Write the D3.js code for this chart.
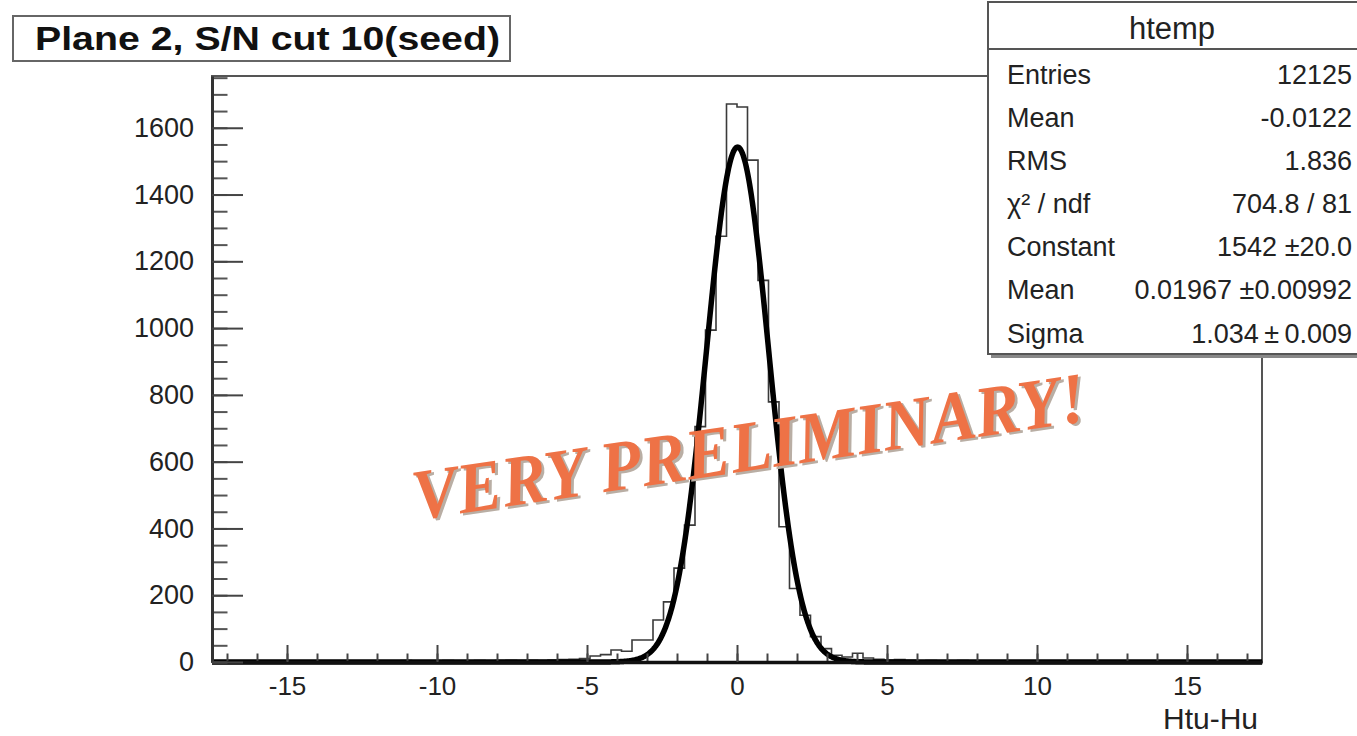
<!DOCTYPE html>
<html>
<head>
<meta charset="utf-8">
<script src="https://cdn.jsdelivr.net/npm/d3@7"></script>
<style>
  body { margin: 0; background: #fff; }
  svg { display: block; font-family: "Liberation Sans", Arial, sans-serif; }
</style>
</head>
<body>
<svg id="chart" width="1357" height="736"></svg>
<script>
// histogram htemp: 100 bins over [-17.5, 17.5]
const xRange = [-17.5, 17.5];
const yMax = 1755;
const counts = [
  1, 0, 2, 1, 1, 2, 1, 3, 2, 2,
  2, 3, 2, 1, 3, 2, 3, 2, 4, 3,
  3, 2, 4, 3, 3, 4, 3, 4, 5, 4,
  5, 4, 6, 7, 8, 10, 18, 22, 36, 32,
  66, 66, 126, 180, 281, 410, 705, 994, 1275, 1671,
  1662, 1503, 1143, 779, 405, 220, 140, 76, 40, 20,
  15, 26, 12, 8, 6, 7, 5, 3, 4, 2,
  3, 4, 3, 2, 3, 2, 3, 3, 2, 2,
  3, 2, 2, 1, 2, 3, 2, 1, 2, 1,
  1, 2, 1, 1, 0, 1, 1, 0, 1, 1
];

const xMajorTicks = [-15, -10, -5, 0, 5, 10, 15];
const xMinorTicks = d3.range(-17, 18, 1);
const yMajorTicks = [0, 200, 400, 600, 800, 1000, 1200, 1400, 1600];
const yMinorTicks = d3.range(0, 1751, 50);

// gaussian fit, parameters as printed in the stats box
const fitConstant = 1542;
const fitMean = 0.01967;
const fitSigma = 1.034;

const titleText = "Plane 2, S/N cut 10(seed)";
const statsTitle = "htemp";
const statLabels = ["Entries", "Mean", "RMS", "\u03C7\u00B2 / ndf", "Constant", "Mean", "Sigma"];
const statValues = ["12125", "-0.0122", "1.836", "704.8 / 81", "1542 \u00B120.0", "0.01967 \u00B10.00992", "1.034\u2009\u00B1\u20090.009"];
const xTitle = "Htu-Hu";
const stamp = "VERY PRELIMINARY!";

const svg = d3.select("#chart");

const x = d3.scaleLinear().domain(xRange).range([212, 1262]);
const y = d3.scaleLinear().domain([0, yMax]).range([662, 76]);

// frame
svg.append("rect")
  .attr("x", x(xRange[0])).attr("y", y(yMax))
  .attr("width", x(xRange[1]) - x(xRange[0]))
  .attr("height", y(0) - y(yMax))
  .attr("fill", "none").attr("stroke", "#555").attr("stroke-width", 2);

// histogram outline
const nBins = counts.length;
const binW = (xRange[1] - xRange[0]) / nBins;
const steps = counts.map((c, i) => ({ e: xRange[0] + i * binW, c }));
steps.push({ e: xRange[1], c: counts[nBins - 1] });

svg.append("path")
  .datum(steps)
  .attr("fill", "none")
  .attr("stroke", "#3a3a3a")
  .attr("stroke-width", 1.6)
  .attr("d", d3.line().curve(d3.curveStepAfter).x(d => x(d.e)).y(d => y(d.c)));

// fit curve
const fitPts = d3.range(xRange[0], xRange[1] + 0.001, 0.02).map(v => ({
  v, f: fitConstant * Math.exp(-0.5 * Math.pow((v - fitMean) / fitSigma, 2))
}));
svg.append("path")
  .datum(fitPts)
  .attr("fill", "none")
  .attr("stroke", "#000")
  .attr("stroke-width", 5.5)
  .attr("stroke-linejoin", "round")
  .attr("d", d3.line().x(d => x(d.v)).y(d => y(d.f)));

// x axis (ticks pointing into the frame)
const xAxisG = svg.append("g").attr("transform", `translate(0,${y(0)})`);
xAxisG.append("g")
  .call(d3.axisBottom(x).tickValues(xMinorTicks).tickSizeInner(-8.5).tickSizeOuter(0).tickFormat(""))
  .call(g => g.select(".domain").remove())
  .call(g => g.selectAll("line").attr("stroke", "#444").attr("stroke-width", 2));
xAxisG.append("g")
  .call(d3.axisBottom(x).tickValues(xMajorTicks).tickSizeInner(-17).tickSizeOuter(0).tickPadding(15).tickFormat(d => String(d)))
  .call(g => g.select(".domain").attr("stroke", "#111").attr("stroke-width", 3.5))
  .call(g => g.selectAll("line").attr("stroke", "#444").attr("stroke-width", 2))
  .call(g => g.selectAll("text").attr("font-size", 26).attr("fill", "#222")
    .attr("font-family", "'Liberation Sans', Arial, sans-serif"));

// y axis
const yAxisG = svg.append("g").attr("transform", `translate(${x(xRange[0])},0)`);
yAxisG.append("g")
  .call(d3.axisLeft(y).tickValues(yMinorTicks).tickSizeInner(-15.5).tickSizeOuter(0).tickFormat(""))
  .call(g => g.select(".domain").remove())
  .call(g => g.selectAll("line").attr("stroke", "#555").attr("stroke-width", 2));
yAxisG.append("g")
  .call(d3.axisLeft(y).tickValues(yMajorTicks).tickSizeInner(-31).tickSizeOuter(0).tickPadding(18).tickFormat(d => String(d)))
  .call(g => g.select(".domain").attr("stroke", "#333").attr("stroke-width", 3))
  .call(g => g.selectAll("line").attr("stroke", "#444").attr("stroke-width", 2))
  .call(g => g.selectAll("text").attr("font-size", 27).attr("fill", "#222")
    .attr("font-family", "'Liberation Sans', Arial, sans-serif"));

// axis title
svg.append("text")
  .attr("x", 1258).attr("y", 729)
  .attr("text-anchor", "end")
  .attr("font-size", 30).attr("fill", "#222")
  .text(xTitle);

// title box
svg.append("rect")
  .attr("x", 13).attr("y", 16).attr("width", 497).attr("height", 45)
  .attr("fill", "#fff").attr("stroke", "#666").attr("stroke-width", 2);
svg.append("text")
  .attr("x", 35).attr("y", 50)
  .attr("font-size", 33).attr("font-weight", "bold").attr("fill", "#111")
  .attr("textLength", 465).attr("lengthAdjust", "spacingAndGlyphs")
  .text(titleText);

// stats box
const sb = { x: 988, y: 2, w: 420, h: 352, head: 47 };
svg.append("rect")
  .attr("x", sb.x + 3).attr("y", sb.y + 4).attr("width", sb.w).attr("height", sb.h)
  .attr("fill", "#888");
svg.append("rect")
  .attr("x", sb.x).attr("y", sb.y).attr("width", sb.w).attr("height", sb.h)
  .attr("fill", "#fff").attr("stroke", "#555").attr("stroke-width", 2);
svg.append("line")
  .attr("x1", sb.x).attr("x2", sb.x + sb.w)
  .attr("y1", sb.y + sb.head).attr("y2", sb.y + sb.head)
  .attr("stroke", "#555").attr("stroke-width", 2);
svg.append("text")
  .attr("x", 1172).attr("y", 39)
  .attr("text-anchor", "middle")
  .attr("font-size", 31).attr("fill", "#222")
  .text(statsTitle);

const rowY = d3.scaleLinear().domain([0, 6]).range([74, 333]);
svg.append("g").selectAll("text.lab")
  .data(statLabels)
  .join("text")
  .attr("class", "lab")
  .attr("x", 1007).attr("y", (d, i) => rowY(i) + 9.5)
  .attr("font-size", 27).attr("fill", "#222")
  .text(d => d);
svg.append("g").selectAll("text.val")
  .data(statValues)
  .join("text")
  .attr("class", "val")
  .attr("x", 1352).attr("y", (d, i) => rowY(i) + 9.5)
  .attr("text-anchor", "end")
  .attr("font-size", 27).attr("fill", "#222")
  .text(d => d);

// stamp
const st = svg.append("g").attr("transform", "translate(416,520) rotate(-8.4)");
st.append("text")
  .attr("x", 2.5).attr("y", 2.5)
  .attr("font-family", "'Liberation Serif', 'DejaVu Serif', serif")
  .attr("font-style", "italic").attr("font-weight", "bold")
  .attr("font-size", 72).attr("fill", "#b9aea4")
  .attr("textLength", 680).attr("lengthAdjust", "spacingAndGlyphs")
  .text(stamp);
st.append("text")
  .attr("font-family", "'Liberation Serif', 'DejaVu Serif', serif")
  .attr("font-style", "italic").attr("font-weight", "bold")
  .attr("font-size", 72).attr("fill", "#ee7246")
  .attr("textLength", 680).attr("lengthAdjust", "spacingAndGlyphs")
  .text(stamp);
</script>
</body>
</html>
